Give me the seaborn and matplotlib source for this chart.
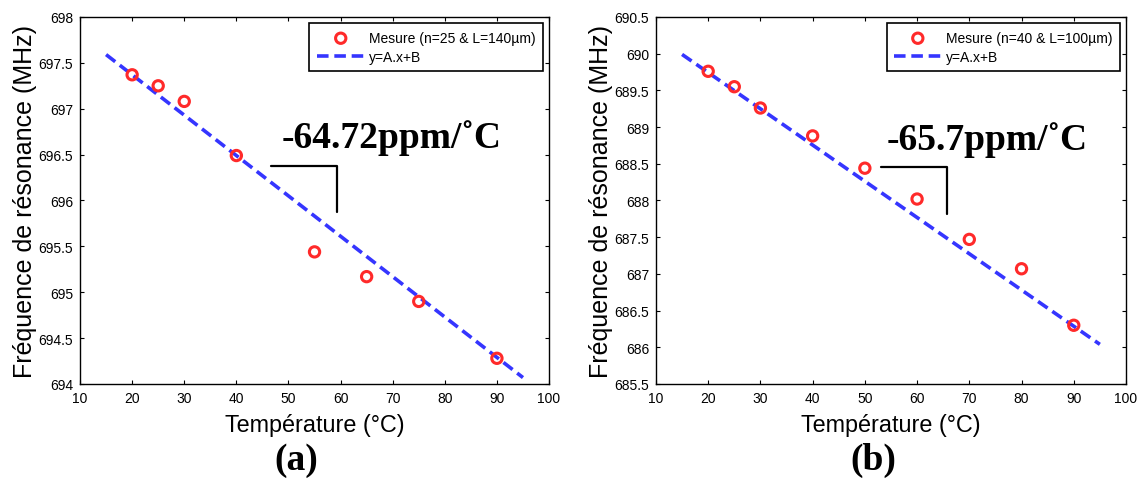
import numpy as np
import pandas as pd
import matplotlib
matplotlib.use("Agg")
import matplotlib.pyplot as plt
import seaborn as sns
from matplotlib.ticker import FormatStrFormatter, MultipleLocator

# ---- data ----
temp_a = [20, 25, 30, 40, 55, 65, 75, 90]
freq_a = [697.37, 697.25, 697.08, 696.49, 695.44, 695.17, 694.90, 694.28]
fit_x_a = [15, 95]
fit_y_a = [697.59, 694.07]

temp_b = [20, 25, 30, 40, 50, 60, 70, 80, 90]
freq_b = [689.76, 689.55, 689.26, 688.88, 688.44, 688.02, 687.47, 687.07, 686.30]
fit_x_b = [15, 95]
fit_y_b = [689.99, 686.04]

# slope marker (bracket) and text
bracket_a_x = [46.7, 59.3, 59.3]
bracket_a_y = [696.38, 696.38, 695.88]
bracket_b_x = [53.1, 65.7, 65.7]
bracket_b_y = [688.46, 688.46, 687.82]
slope_a = "-64.72ppm/\u02daC"
slope_b = "-65.7ppm/\u02daC"

label_a = "Mesure (n=25 & L=140\u00b5m)"
label_b = "Mesure (n=40 & L=100\u00b5m)"

sns.set_theme(style="ticks")
plt.rcParams["font.family"] = ["Liberation Sans", "DejaVu Sans"]
plt.rcParams["axes.edgecolor"] = "black"
plt.rcParams["axes.linewidth"] = 1.0
plt.rcParams["text.color"] = "black"
plt.rcParams["axes.labelcolor"] = "black"
plt.rcParams["xtick.color"] = "black"
plt.rcParams["ytick.color"] = "black"

RED = "#ff2a2a"
BLUE = "#3535ff"
SERIF = ["Liberation Serif", "DejaVu Serif"]

fig = plt.figure(figsize=(11.4, 4.81), dpi=100)
ax_a = fig.add_axes([0.0702, 0.1996, 0.4114, 0.763])
ax_b = fig.add_axes([0.5754, 0.1996, 0.4123, 0.763])


def draw_panel(ax, tx, fy, fx, fyfit, lab, bx, by, slope, txt_pos, ylim, ystep, letter):
    df_pts = pd.DataFrame({"T": tx, "F": fy})
    df_fit = pd.DataFrame({"T": fx, "F": fyfit})
    sns.scatterplot(data=df_pts, x="T", y="F", ax=ax, marker="o", s=55,
                    facecolors="none", edgecolor=RED, linewidth=2.2,
                    label=lab, zorder=3)
    sns.lineplot(data=df_fit, x="T", y="F", ax=ax, color=BLUE, lw=2.6,
                 linestyle=(0, (3.2, 1.6)), label="y=A.x+B", zorder=2)
    ax.plot(bx, by, color="black", lw=1.6)
    ax.text(txt_pos[0], txt_pos[1], slope, fontsize=27, fontweight="bold",
            family=SERIF, ha="left", va="baseline", color="black")

    ax.set_xlim(10, 100)
    ax.set_ylim(*ylim)
    ax.xaxis.set_major_locator(MultipleLocator(10))
    ax.yaxis.set_major_locator(MultipleLocator(ystep))
    ax.yaxis.set_major_formatter(FormatStrFormatter("%g"))
    ax.tick_params(direction="in", length=3, width=0.8, top=True, right=True,
                   labelsize=10, pad=5)
    for s in ax.spines.values():
        s.set_visible(True)
    ax.set_xlabel("Température (°C)", fontsize=16.8, labelpad=6)
    ax.set_ylabel("Fréquence de résonance (MHz)", fontsize=18, labelpad=1)

    leg = ax.legend(loc="upper right", fontsize=10, frameon=True, fancybox=False,
                    edgecolor="black", framealpha=1, borderaxespad=0.45,
                    handlelength=3.4, handletextpad=0.3, borderpad=0.55,
                    labelspacing=0.35)
    leg.get_frame().set_linewidth(1.2)

    ax.text(0.462, -0.205, letter, transform=ax.transAxes, fontsize=27,
            fontweight="bold", family=SERIF, ha="center", va="center", color="black")


draw_panel(ax_a, temp_a, freq_a, fit_x_a, fit_y_a, label_a, bracket_a_x, bracket_a_y,
           slope_a, (48.6, 696.58), (694, 698), 0.5, "(a)")
draw_panel(ax_b, temp_b, freq_b, fit_x_b, fit_y_b, label_b, bracket_b_x, bracket_b_y,
           slope_b, (54.1, 688.7), (685.5, 690.5), 0.5, "(b)")

fig.savefig("out.png", dpi=100)
